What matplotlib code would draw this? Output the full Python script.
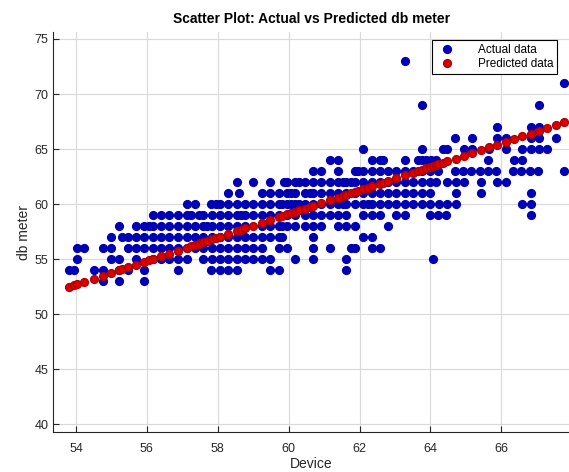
import numpy as np
import matplotlib
matplotlib.use('Agg')
import matplotlib.pyplot as plt

plt.rcParams['font.family'] = ['Liberation Sans', 'DejaVu Sans']

# actual data, one list of Device values per db meter level
y_levels = [73, 71, 69, 67, 66, 65, 64, 63, 62, 61, 60, 59, 58, 57, 56, 55, 54, 53]
device_by_level = {
    73: [63.27],
    71: [67.77],
    69: [63.76, 67.06],
    67: [65.89, 66.83, 67.06],
    66: [64.70, 65.17, 65.89, 66.12, 66.83, 67.06, 67.53],
    65: [62.10, 63.76, 64.36, 64.48, 64.95, 65.17, 65.65, 66.12, 66.59, 66.83, 67.06, 67.30],
    64: [61.16, 61.39, 62.34, 62.57, 62.67, 63.28, 63.65, 63.75, 63.88, 64.01, 64.17,
         65.62, 66.36, 66.59],
    63: [60.69, 60.92, 61.39, 61.86, 61.95, 62.09, 62.34, 62.57, 62.81, 63.04, 63.28,
         63.51, 63.75, 63.98, 64.21, 64.68, 64.92, 65.15, 65.39, 65.62, 65.86, 66.33,
         66.56, 66.80, 67.03, 67.78],
    62: [58.54, 59.00, 59.48, 59.86, 59.95, 60.19, 60.29, 60.45, 60.69, 60.92, 61.16,
         61.39, 61.53, 61.63, 61.77, 61.86, 62.09, 62.34, 62.57, 62.81, 63.04, 63.28,
         63.51, 63.75, 63.98, 64.17, 64.48, 64.71, 64.95, 65.42, 65.89, 66.12],
    61: [58.30, 58.60, 59.24, 59.48, 59.72, 59.95, 60.06, 60.19, 60.45, 60.59, 60.69,
         60.92, 61.16, 61.39, 61.63, 61.86, 62.09, 62.34, 62.57, 62.81, 63.04, 63.28,
         63.51, 63.75, 63.98, 64.71, 65.42, 66.83],
    60: [57.12, 57.36, 57.82, 57.94, 58.06, 58.30, 58.54, 58.77, 59.00, 59.24, 59.48,
         59.72, 59.82, 59.95, 60.06, 60.19, 60.29, 60.45, 60.69, 60.92, 61.16, 61.39,
         61.53, 61.63, 61.86, 62.09, 62.23, 62.34, 62.57, 62.81, 63.04, 63.28, 63.51,
         63.75, 63.98, 64.24, 64.48, 64.71, 66.59, 66.83],
    59: [56.16, 56.40, 56.63, 56.87, 57.12, 57.25, 57.47, 57.59, 57.83, 58.06, 58.30,
         58.54, 58.65, 58.77, 59.00, 59.24, 59.48, 59.72, 59.95, 60.19, 60.45, 60.69,
         60.92, 61.16, 61.39, 61.63, 62.09, 62.34, 62.57, 63.04, 63.28, 63.98, 64.21,
         64.45, 66.83],
    58: [55.22, 55.69, 55.92, 56.07, 56.16, 56.40, 56.63, 56.87, 57.12, 57.36, 57.59,
         57.71, 57.83, 58.06, 58.30, 58.54, 58.77, 59.24, 59.48, 59.72, 59.82, 59.95,
         60.19, 60.45, 60.69, 60.92, 61.39, 61.63, 61.86, 62.81],
    57: [55.00, 55.31, 55.46, 55.69, 55.92, 56.16, 56.40, 56.63, 56.87, 57.12, 57.36,
         57.59, 57.83, 58.06, 58.30, 58.54, 58.77, 59.00, 59.24, 59.48, 59.72, 59.82,
         60.69, 62.09, 62.34],
    56: [54.03, 54.23, 54.75, 55.00, 55.46, 55.69, 55.92, 56.16, 56.40, 56.63, 56.87,
         57.12, 57.36, 57.59, 57.83, 58.06, 58.30, 58.54, 58.77, 59.00, 59.24, 59.72,
         59.95, 60.69, 61.16, 61.77, 61.86, 62.34, 62.57],
    55: [54.03, 55.00, 55.22, 55.69, 56.16, 56.40, 56.63, 56.87, 57.12, 57.59, 57.83,
         58.06, 58.30, 58.54, 58.77, 59.00, 59.24, 59.48, 60.19, 60.69, 61.63, 64.06],
    54: [53.79, 53.95, 54.50, 54.75, 55.22, 55.46, 55.92, 56.87, 57.82, 58.06, 58.30,
         58.54, 59.48, 59.72, 61.63],
    53: [54.75, 55.22, 55.92],
}

# predicted db meter (regression output)
pred_x = [53.79, 53.95, 54.03, 54.23, 54.50, 54.75, 55.00, 55.22, 55.31, 55.46, 55.69,
          55.92, 56.07, 56.16, 56.40, 56.63, 56.87, 57.12, 57.25, 57.36, 57.47, 57.59,
          57.71, 57.83, 57.94, 58.06, 58.30, 58.54, 58.65, 58.77, 59.00, 59.24, 59.48,
          59.72, 59.82, 59.95, 60.06, 60.19, 60.29, 60.45, 60.59, 60.69, 60.92, 61.16,
          61.39, 61.53, 61.63, 61.77, 61.86, 61.95, 62.09, 62.23, 62.34, 62.57, 62.67,
          62.81, 63.04, 63.28, 63.51, 63.65, 63.75, 63.88, 63.98, 64.06, 64.17, 64.21,
          64.36, 64.48, 64.71, 64.95, 65.17, 65.42, 65.65, 65.89, 66.12, 66.36, 66.59,
          66.83, 67.06, 67.30, 67.53, 67.78]
pred_y = [52.47, 52.64, 52.73, 52.94, 53.23, 53.50, 53.76, 54.00, 54.09, 54.26, 54.50,
          54.75, 54.91, 55.00, 55.26, 55.51, 55.76, 56.03, 56.17, 56.29, 56.40, 56.53,
          56.66, 56.79, 56.91, 57.03, 57.29, 57.55, 57.67, 57.79, 58.04, 58.30, 58.55,
          58.81, 58.92, 59.06, 59.17, 59.31, 59.42, 59.59, 59.74, 59.85, 60.09, 60.35,
          60.59, 60.74, 60.85, 61.00, 61.10, 61.19, 61.34, 61.49, 61.61, 61.86, 61.96,
          62.11, 62.36, 62.62, 62.86, 63.01, 63.12, 63.26, 63.36, 63.45, 63.57, 63.61,
          63.77, 63.90, 64.14, 64.40, 64.64, 64.90, 65.15, 65.41, 65.65, 65.91, 66.15,
          66.41, 66.66, 66.91, 67.16, 67.43]

actual_x = []
actual_y = []
for lvl in y_levels:
    for d in device_by_level[lvl]:
        actual_x.append(d)
        actual_y.append(lvl)

fig = plt.figure(figsize=(5.69, 4.72), dpi=100)
ax = fig.add_axes([0.0937, 0.0841, 0.9063, 0.8487])

ax.plot(actual_x, actual_y, linestyle='none', marker='o', markersize=5.6,
        markerfacecolor='#0000b4', markeredgecolor='#0000b4', label='Actual data', zorder=3)
ax.plot(pred_x, pred_y, linestyle='none', marker='o', markersize=5.6,
        markerfacecolor='#dd0000', markeredgecolor='#b00000', label='Predicted data', zorder=4)

ax.set_xlim(53.36, 67.91)
ax.set_ylim(39.27, 75.66)
ax.set_xticks([54, 56, 58, 60, 62, 64, 66])
ax.set_yticks([40, 45, 50, 55, 60, 65, 70, 75])

ax.grid(True, color='#d9d9d9', linewidth=0.8)
ax.set_axisbelow(True)
for s in ['top', 'right']:
    ax.spines[s].set_visible(False)
for s in ['left', 'bottom']:
    ax.spines[s].set_color('#262626')
    ax.spines[s].set_linewidth(0.8)
ax.tick_params(direction='in', length=4, width=0.8, colors='#262626',
               labelsize=9, labelcolor='#262626')
ax.tick_params(axis='x', pad=8)

ax.set_title('Scatter Plot: Actual vs Predicted db meter', fontsize=10,
             fontweight='bold', pad=6)
ax.set_xlabel('Device', fontsize=10, color='#262626', labelpad=1)
ax.set_ylabel('db meter', fontsize=10, color='#262626', labelpad=2.5)

leg = ax.legend(loc='upper right', bbox_to_anchor=(0.977, 0.979), borderaxespad=0,
                fontsize=8.5, fancybox=False, framealpha=1, edgecolor='black',
                handletextpad=1.6, borderpad=0.3, labelspacing=0.2)
leg.get_frame().set_linewidth(0.8)

fig.savefig('out.png', dpi=100)
